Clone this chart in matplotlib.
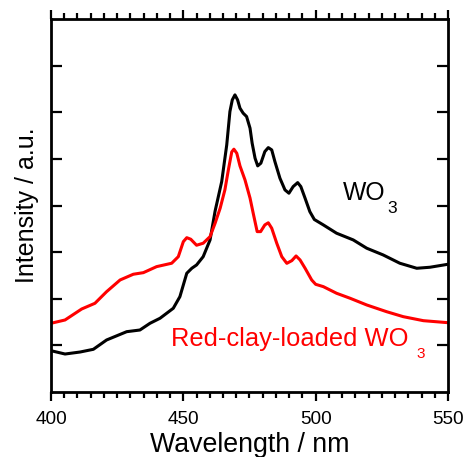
import matplotlib
matplotlib.use("Agg")
import matplotlib.pyplot as plt
import numpy as np
from matplotlib.ticker import MultipleLocator

plt.rcParams['font.family'] = ['Liberation Sans', 'DejaVu Sans']

# PL spectra, wavelength (nm) vs intensity (a.u.)
wl_wo3 = [400.0, 405.3, 411.0, 416.0, 421.0, 428.6, 433.6, 437.4, 441.2, 446.2,
          448.7, 451.3, 453.2, 455.0, 457.5, 460.1, 462.0, 464.5, 466.4, 467.6,
          468.5, 469.5, 470.5, 471.4, 472.6, 473.9, 475.2, 476.0, 477.1, 478.1,
          479.3, 480.8, 482.1, 483.4, 484.6, 486.5, 488.4, 489.9, 491.5, 493.2,
          494.4, 496.0, 497.8, 499.5, 502.9, 507.9, 514.2, 519.3, 525.5, 531.8,
          538.2, 543.2, 550.0]
int_wo3 = [0.886, 0.815, 0.858, 0.916, 1.116, 1.294, 1.330, 1.474, 1.582, 1.796,
           2.045, 2.547, 2.654, 2.725, 2.903, 3.262, 3.880, 4.513, 5.300, 6.015,
           6.266, 6.373, 6.266, 6.088, 5.981, 5.908, 5.659, 5.337, 5.015, 4.850,
           4.908, 5.157, 5.242, 5.193, 4.942, 4.586, 4.335, 4.264, 4.406, 4.491,
           4.406, 4.157, 3.869, 3.700, 3.584, 3.406, 3.262, 3.084, 2.940, 2.762,
           2.654, 2.676, 2.740]

wl_clay = [400.0, 405.3, 411.6, 416.6, 421.0, 426.1, 431.1, 434.9, 439.9, 445.6,
           448.1, 450.0, 451.3, 452.8, 455.0, 457.5, 460.1, 462.0, 463.9, 465.7,
           467.0, 468.3, 469.1, 470.2, 471.4, 473.3, 475.2, 476.4, 477.9, 479.2,
           480.8, 482.1, 483.4, 485.3, 487.2, 489.1, 491.0, 492.6, 494.1, 496.0,
           498.5, 500.0, 502.9, 507.9, 513.0, 519.3, 526.8, 533.1, 540.7, 550.0]
int_clay = [1.474, 1.545, 1.781, 1.903, 2.152, 2.403, 2.526, 2.560, 2.689, 2.762,
            2.903, 3.225, 3.310, 3.277, 3.148, 3.191, 3.333, 3.620, 3.940, 4.335,
            4.760, 5.150, 5.208, 5.120, 4.850, 4.549, 4.160, 3.835, 3.440, 3.440,
            3.584, 3.630, 3.513, 3.191, 2.903, 2.760, 2.818, 2.918, 2.833, 2.655,
            2.403, 2.310, 2.260, 2.118, 2.011, 1.867, 1.723, 1.616, 1.530, 1.487]

fig = plt.figure(figsize=(4.65, 4.57), dpi=100)
ax = fig.add_axes([0.1097, 0.1422, 0.8537, 0.8162])

ax.plot(wl_wo3, int_wo3, color='black', lw=2.2)
ax.plot(wl_clay, int_clay, color='#ff0000', lw=2.2)

ax.set_xlim(400, 550)
ax.set_ylim(0, 8)
ax.xaxis.set_major_locator(MultipleLocator(50))
ax.xaxis.set_minor_locator(MultipleLocator(5))
ax.set_yticks(range(1, 8))
ax.set_yticklabels([])

ax.tick_params(axis='x', which='both', direction='out', top=True, bottom=True,
               labelsize=13.7, width=1.6, pad=7)
ax.tick_params(axis='x', which='major', length=6.5)
ax.tick_params(axis='x', which='minor', length=4)
ax.tick_params(axis='y', which='major', direction='in', left=True, right=True,
               length=8, width=1.6)
for s in ax.spines.values():
    s.set_linewidth(2)

ax.set_xlabel('Wavelength / nm', fontsize=19.3, labelpad=3)
ax.set_ylabel('Intensity / a.u.', fontsize=18, labelpad=5)


def label_with_sub(x, y, main, sub, color, size, sub_size, dx, dy):
    # main text on the baseline, subscript hung just after it
    t = ax.text(x, y, main, fontsize=size, color=color, va='baseline')
    ax.annotate(sub, xy=(1, 0), xycoords=t, xytext=(dx, dy),
                textcoords='offset points', fontsize=sub_size, color=color,
                va='baseline', ha='left')


label_with_sub(510.3, 4.12, 'WO', '3', 'black', 17.8, 12.5, 1.5, -5.5)
label_with_sub(445.3, 0.987, 'Red-clay-loaded WO', '3', '#ff0000', 18.4, 11, 5.5, -5)

fig.savefig('out.png', dpi=100)
